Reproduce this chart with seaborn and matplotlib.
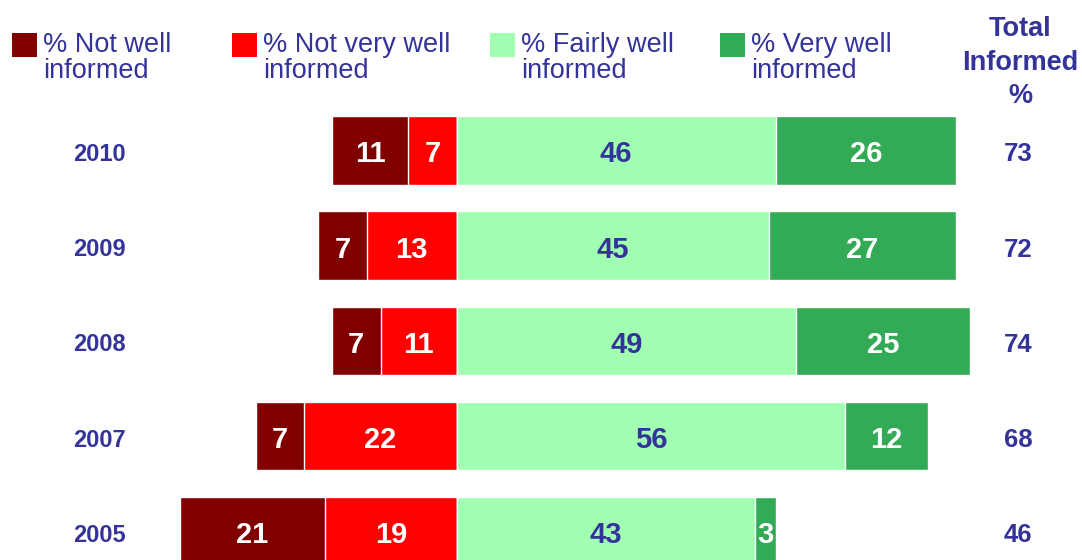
import numpy as np
import pandas as pd
import matplotlib
matplotlib.use("Agg")
import matplotlib.pyplot as plt
import seaborn as sns
from matplotlib.patches import Rectangle

# ---------------------------
# Data
# ---------------------------
years = ["2010", "2009", "2008", "2007", "2005"]
not_well = [11, 7, 7, 7, 21]
not_very_well = [7, 13, 11, 22, 19]
fairly_well = [46, 45, 49, 56, 43]
very_well = [26, 27, 25, 12, 3]
total_informed = [73, 72, 74, 68, 46]

legend_labels = ["% Not well\ninformed", "% Not very well\ninformed",
                 "% Fairly well\ninformed", "% Very well\ninformed"]
colors = ["#800000", "#FF0000", "#A0FFB0", "#33AA55"]
label_colors = ["white", "white", "#333399", "white"]
navy = "#333399"

df = pd.DataFrame({
    "year": years,
    "not_well": not_well,
    "not_very_well": not_very_well,
    "fairly_well": fairly_well,
    "very_well": very_well,
    "total": total_informed,
})
# negative side stacked to the left of zero, positive side to the right
df["left_outer"] = -(df["not_well"] + df["not_very_well"])
df["left_inner"] = -df["not_very_well"]
df["right_outer"] = df["fairly_well"] + df["very_well"]
df["right_inner"] = df["fairly_well"]

# ---------------------------
# Plot
# ---------------------------
sns.set_theme(style="white")
plt.rcParams["font.family"] = ["Liberation Sans", "DejaVu Sans"]

fig = plt.figure(figsize=(10.82, 5.6), dpi=100)
ax = fig.add_axes([0, 0, 1, 1])

bar_w = 0.72
for col, c in [("left_outer", colors[0]), ("left_inner", colors[1]),
               ("right_outer", colors[3]), ("right_inner", colors[2])]:
    sns.barplot(data=df, x=col, y="year", orient="h", color=c, width=bar_w,
                saturation=1, edgecolor="white", linewidth=1, ax=ax,
                order=years)

# segment labels (nudged a touch down so they sit like the original)
dy = 0.04
for i, row in df.iterrows():
    segs = [
        (row["left_outer"] + row["not_well"] / 2, row["not_well"], 0),
        (-row["not_very_well"] / 2, row["not_very_well"], 1),
        (row["fairly_well"] / 2, row["fairly_well"], 2),
        (row["fairly_well"] + row["very_well"] / 2, row["very_well"], 3),
    ]
    for xc, v, k in segs:
        ax.text(xc, i + dy, str(v), ha="center", va="center", fontsize=21,
                fontweight="bold", color=label_colors[k])
    ax.text(-51.5, i + dy, row["year"], ha="center", va="center", fontsize=17,
            fontweight="bold", color=navy)
    ax.text(81, i + dy, str(row["total"]), ha="center", va="center",
            fontsize=18.5, fontweight="bold", color=navy)

ax.set_xlim(-65.9, 90.2)
ax.set_ylim(4.30, -1.58)
ax.axis("off")

# ---------------------------
# Legend (manual, top row)
# ---------------------------
W, H = 1082, 560
leg_x = [12, 232, 490, 720]
for x0, lab, c in zip(leg_x, legend_labels, colors):
    fig.patches.append(Rectangle((x0 / W, (H - 57) / H), 25 / W, 24 / H,
                                 transform=fig.transFigure, facecolor=c,
                                 edgecolor="none"))
    fig.text((x0 + 31) / W, (H - 32) / H, lab, ha="left", va="top",
             fontsize=19.5, color=navy, linespacing=1.0)

fig.text(1020 / W, (H - 16) / H, "Total\nInformed\n%", ha="center", va="top",
         fontsize=19.5, fontweight="bold", color=navy, linespacing=1.38)

plt.savefig("out.png", dpi=100)
